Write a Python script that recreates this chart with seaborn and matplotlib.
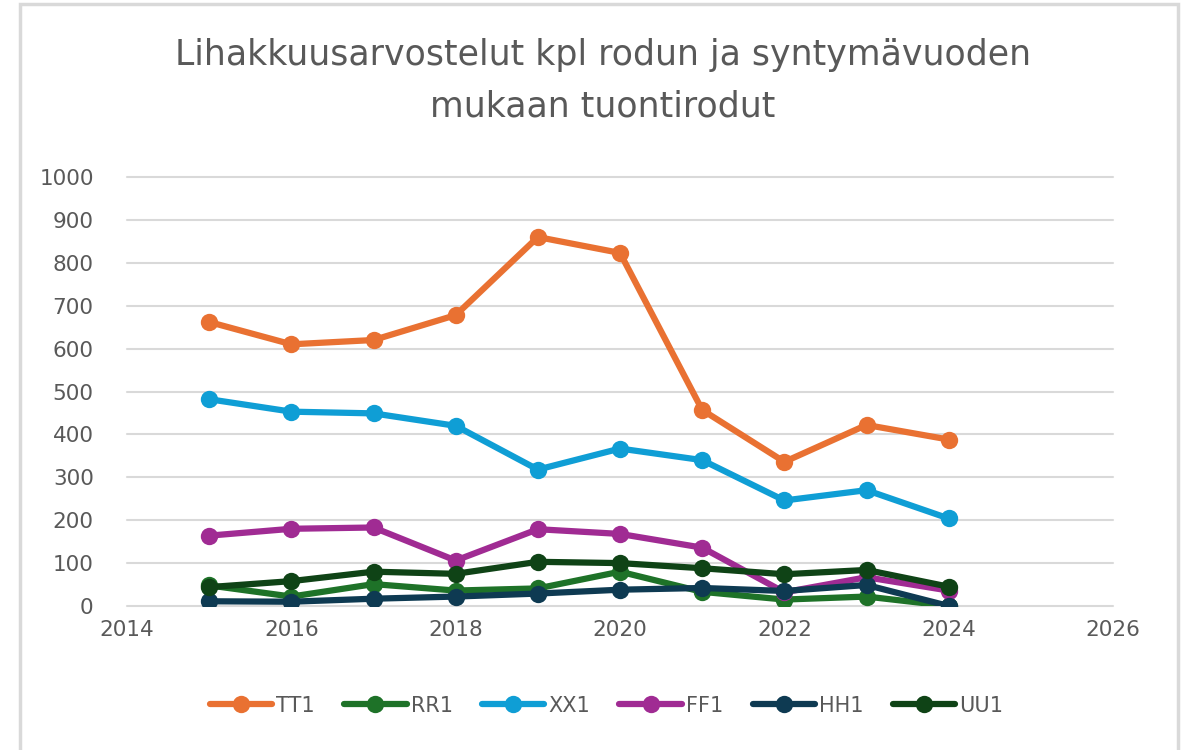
import pandas as pd
import matplotlib.pyplot as plt
import seaborn as sns
from matplotlib.patches import Rectangle

years = [2015, 2016, 2017, 2018, 2019, 2020, 2021, 2022, 2023, 2024]
breeds = ['TT1', 'RR1', 'XX1', 'FF1', 'HH1', 'UU1']

tt1 = [662, 610, 620, 678, 860, 823, 457, 336, 422, 388]
rr1 = [48, 22, 51, 36, 41, 80, 33, 15, 22, 0]
xx1 = [482, 453, 449, 420, 318, 367, 340, 246, 270, 204]
ff1 = [164, 180, 183, 106, 179, 168, 136, 32, 67, 36]
hh1 = [11, 10, 17, 22, 29, 38, 42, 35, 49, 0]
uu1 = [44, 58, 80, 75, 103, 100, 88, 74, 84, 45]

colors = ['#E97132', '#1E7228', '#0F9ED5', '#A02B93', '#0E3A52', '#0F4316']

series = {'TT1': tt1, 'RR1': rr1, 'XX1': xx1, 'FF1': ff1, 'HH1': hh1, 'UU1': uu1}
rows = []
for name in breeds:
    for y, v in zip(years, series[name]):
        rows.append({'vuosi': y, 'kpl': v, 'rotu': name})
df = pd.DataFrame(rows)

sns.set_style('white')
plt.rcParams['font.family'] = ['DejaVu Sans']
txt = '#595959'

fig = plt.figure(figsize=(11.94, 7.5), dpi=100)
ax = fig.add_axes([0.1064, 0.192, 0.8258, 0.572])

sns.lineplot(data=df, x='vuosi', y='kpl', hue='rotu', hue_order=breeds,
             palette=colors, marker='o', markersize=12.5, markeredgewidth=0,
             linewidth=4.5, ax=ax, legend=True)

ax.set_xlim(2014, 2026)
ax.set_ylim(0, 1000)
ax.set_xticks(range(2014, 2027, 2))
ax.set_yticks(range(0, 1001, 100))
ax.yaxis.grid(True, color='#d9d9d9', linewidth=1.5)
for gl in ax.get_ygridlines():
    gl.set_clip_on(False)
ax.set_axisbelow(True)
for s in ax.spines.values():
    s.set_visible(False)
ax.tick_params(axis='both', length=0, labelsize=15.5, labelcolor=txt, pad=10)
ax.tick_params(axis='y', pad=24)
ax.set_xlabel('')
ax.set_ylabel('')

fig.suptitle('Lihakkuusarvostelut kpl rodun ja syntymävuoden\nmukaan tuontirodut',
             x=0.505, y=0.95, fontsize=25, color=txt, linespacing=1.65)

handles, labels = ax.get_legend_handles_labels()
ax.legend(handles, labels, loc='center', bbox_to_anchor=(0.508, 0.059),
          bbox_transform=fig.transFigure, ncol=6, frameon=False,
          fontsize=15, labelcolor=txt, handlelength=3.0, columnspacing=1.4,
          handletextpad=0.2)

fig.patches.append(Rectangle((20 / 1194, -0.01), 1158 / 1194, 1.0 - 4 / 750 + 0.01,
                             transform=fig.transFigure, fill=False,
                             edgecolor='#d9d9d9', linewidth=2.5))

fig.savefig('out.png', dpi=100)
